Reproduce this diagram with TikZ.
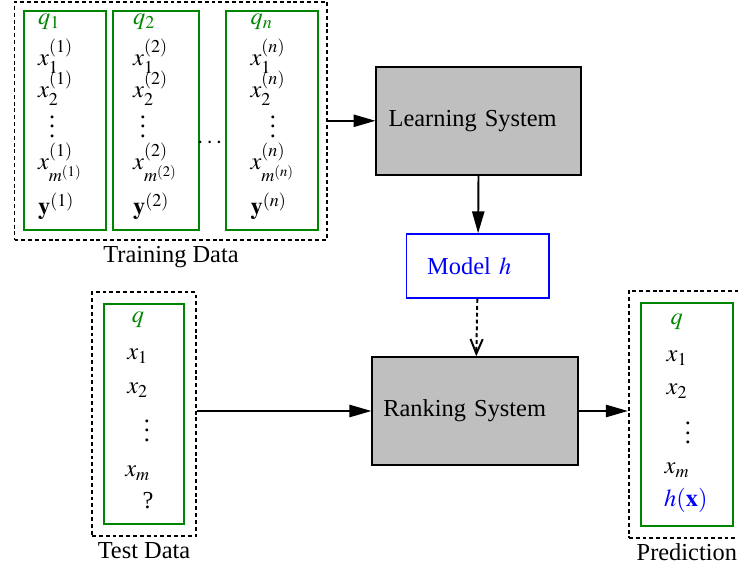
\documentclass[tikz,border=0pt]{standalone}
\usepackage{mathptmx}
\usepackage{fontspec}
\setmainfont{Liberation Serif}
\usetikzlibrary{arrows.meta,fit,positioning}
\definecolor{dkgreen}{rgb}{0,0.52,0}

\begin{document}
\begin{tikzpicture}[->,>={Triangle[length=9pt,width=5pt]},line width=0.8pt,
  col/.style={draw=dkgreen,minimum height=3.15cm,inner sep=0pt},
  txt/.style={inner sep=1pt},
  sys/.style={draw,fill=black!25,minimum height=1.55cm,inner sep=5pt,text width=2.6cm,align=left},
  grp/.style={draw,dash pattern=on 1.6pt off 1.2pt,inner sep=3.5pt},
  node distance=-1.5pt]
  \useasboundingbox (0,0) rectangle (10.63,8.14);

  % training data
  \node [col,minimum width=1.18cm] (1) at (0.936,6.40) {};
  \node [col,minimum width=1.24cm] (2) at (2.246,6.40) {};
  \node [col,minimum width=1.325cm] (n) at (3.917,6.40) {};
  \foreach \k/\l/\v in {1/0.50/0.75, 2/1.87/2.06, n/3.56/3.93}{
    \node [txt,anchor=west,text=dkgreen] (q\k) at (\l,7.82) {$q_{\k}$};
    \node [txt,anchor=west] (a\k) at (\l,7.33) {$x_1^{(\k)}$};
    \node [txt,anchor=west] (b\k) at (\l,6.87) {$x_2^{(\k)}$};
    \node [txt] (d\k) at (\v,6.42) {$\vdots$};
    \node [txt,anchor=west] (m\k) at (\l,5.80) {$x_{m^{(\k)}}^{(\k)}$};
    \node [txt,anchor=west] (y\k) at (\l,5.17) {$\mathbf{y}^{(\k)}$};
  }
  \node [txt] (dots) at (3.02,6.08) {$\cdots$};
  \node [grp,fit=(1) (2) (n)] (train) {};
  \node [below=of train] (trainlbl) {Training Data};

  % systems
  \node [sys] (learn) at (6.898,6.40) {Learning System};
  \node [draw=blue,text=blue,minimum height=0.92cm,inner xsep=8.5pt,text width=41.5pt,align=left] (model) at (6.883,4.306) {Model $h$};
  \node [sys,inner xsep=4.5pt,text width=2.65cm] (rank) at (6.847,2.22) {Ranking System};

  % test data
  \node [col,minimum width=1.152cm,minimum height=3.168cm] (t) at (2.074,2.174) {};
  \node [txt,text=dkgreen] (tq) at (1.987,3.528) {$q$};
  \node [txt] (t1) at (1.987,3.01) {$x_1$};
  \node [txt] (t2) at (1.987,2.52) {$x_2$};
  \node [txt] (td) at (2.117,2.04) {$\vdots$};
  \node [txt] (tm) at (1.987,1.325) {$x_m$};
  \node [txt] (tu) at (2.131,0.936) {?};
  \node [grp,inner sep=4.5pt,fit=(t)] (test) {};
  \node [below=of test] (testlbl) {Test Data};

  % prediction
  \node [col,minimum width=1.325cm,minimum height=3.21cm] (p) at (9.893,2.174) {};
  \node [txt,text=dkgreen] (pq) at (9.749,3.51) {$q$};
  \node [txt] (p1) at (9.755,2.98) {$x_1$};
  \node [txt] (p2) at (9.755,2.506) {$x_2$};
  \node [txt] (pd) at (9.907,2.01) {$\vdots$};
  \node [txt] (pm) at (9.755,1.368) {$x_m$};
  \node [txt,text=blue] (ph) at (9.878,0.936) {$h(\mathbf{x})$};
  \node [grp,inner sep=4.5pt,fit=(p)] (pred) {};
  \node [below=of pred] (predlbl) {Prediction};

  \path[->] (train) edge (learn);
  \path[->] (learn) edge (model);
  \path[->,dash pattern=on 1.6pt off 1.2pt,>={Straight Barb[length=6pt,width=5pt]}] (model) edge (rank);
  \path[->] (test.east |- rank) edge (rank.west);
  \path[->] (rank) edge (pred.west |- rank);

\end{tikzpicture}
\end{document}
